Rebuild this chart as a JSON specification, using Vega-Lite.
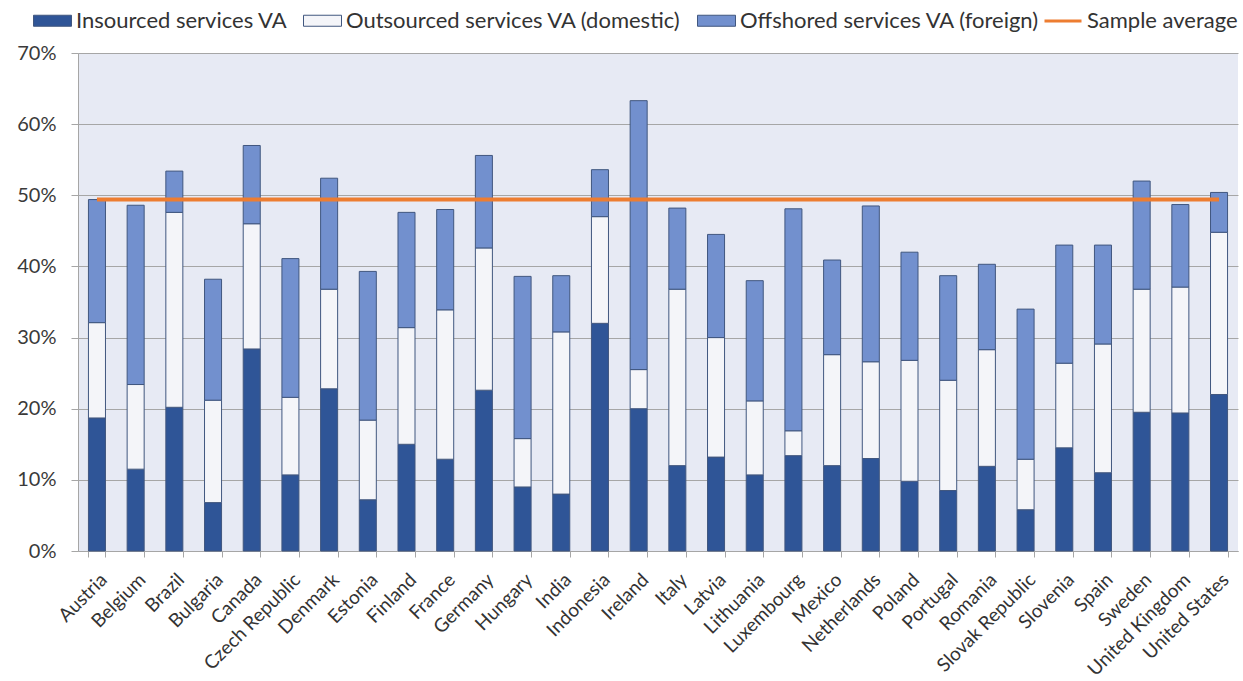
{
"$schema":"https://vega.github.io/schema/vega-lite/v6.json",
"width":1160,"height":498,
"autosize":{"type":"none"},
"padding":{"left":78,"right":5,"top":53,"bottom":130},
"background":"white",
"config":{"view":{"fill":"#E7EAF4","stroke":null},"font":"Lato"},
"datasets":{
"bars":[
{"country":"Austria","component":"Insourced services VA","value":18.7,"rank":1},{"country":"Austria","component":"Outsourced services VA (domestic)","value":13.4,"rank":2},{"country":"Austria","component":"Offshored services VA (foreign)","value":17.3,"rank":3},
{"country":"Belgium","component":"Insourced services VA","value":11.5,"rank":1},{"country":"Belgium","component":"Outsourced services VA (domestic)","value":11.9,"rank":2},{"country":"Belgium","component":"Offshored services VA (foreign)","value":25.2,"rank":3},
{"country":"Brazil","component":"Insourced services VA","value":20.2,"rank":1},{"country":"Brazil","component":"Outsourced services VA (domestic)","value":27.4,"rank":2},{"country":"Brazil","component":"Offshored services VA (foreign)","value":5.8,"rank":3},
{"country":"Bulgaria","component":"Insourced services VA","value":6.8,"rank":1},{"country":"Bulgaria","component":"Outsourced services VA (domestic)","value":14.4,"rank":2},{"country":"Bulgaria","component":"Offshored services VA (foreign)","value":17.0,"rank":3},
{"country":"Canada","component":"Insourced services VA","value":28.4,"rank":1},{"country":"Canada","component":"Outsourced services VA (domestic)","value":17.6,"rank":2},{"country":"Canada","component":"Offshored services VA (foreign)","value":11.0,"rank":3},
{"country":"Czech Republic","component":"Insourced services VA","value":10.7,"rank":1},{"country":"Czech Republic","component":"Outsourced services VA (domestic)","value":10.9,"rank":2},{"country":"Czech Republic","component":"Offshored services VA (foreign)","value":19.5,"rank":3},
{"country":"Denmark","component":"Insourced services VA","value":22.8,"rank":1},{"country":"Denmark","component":"Outsourced services VA (domestic)","value":14.0,"rank":2},{"country":"Denmark","component":"Offshored services VA (foreign)","value":15.6,"rank":3},
{"country":"Estonia","component":"Insourced services VA","value":7.2,"rank":1},{"country":"Estonia","component":"Outsourced services VA (domestic)","value":11.2,"rank":2},{"country":"Estonia","component":"Offshored services VA (foreign)","value":20.9,"rank":3},
{"country":"Finland","component":"Insourced services VA","value":15.0,"rank":1},{"country":"Finland","component":"Outsourced services VA (domestic)","value":16.4,"rank":2},{"country":"Finland","component":"Offshored services VA (foreign)","value":16.2,"rank":3},
{"country":"France","component":"Insourced services VA","value":12.9,"rank":1},{"country":"France","component":"Outsourced services VA (domestic)","value":21.0,"rank":2},{"country":"France","component":"Offshored services VA (foreign)","value":14.1,"rank":3},
{"country":"Germany","component":"Insourced services VA","value":22.6,"rank":1},{"country":"Germany","component":"Outsourced services VA (domestic)","value":20.0,"rank":2},{"country":"Germany","component":"Offshored services VA (foreign)","value":13.0,"rank":3},
{"country":"Hungary","component":"Insourced services VA","value":9.0,"rank":1},{"country":"Hungary","component":"Outsourced services VA (domestic)","value":6.8,"rank":2},{"country":"Hungary","component":"Offshored services VA (foreign)","value":22.8,"rank":3},
{"country":"India","component":"Insourced services VA","value":8.0,"rank":1},{"country":"India","component":"Outsourced services VA (domestic)","value":22.8,"rank":2},{"country":"India","component":"Offshored services VA (foreign)","value":7.9,"rank":3},
{"country":"Indonesia","component":"Insourced services VA","value":32.0,"rank":1},{"country":"Indonesia","component":"Outsourced services VA (domestic)","value":15.0,"rank":2},{"country":"Indonesia","component":"Offshored services VA (foreign)","value":6.6,"rank":3},
{"country":"Ireland","component":"Insourced services VA","value":20.0,"rank":1},{"country":"Ireland","component":"Outsourced services VA (domestic)","value":5.5,"rank":2},{"country":"Ireland","component":"Offshored services VA (foreign)","value":37.8,"rank":3},
{"country":"Italy","component":"Insourced services VA","value":12.0,"rank":1},{"country":"Italy","component":"Outsourced services VA (domestic)","value":24.8,"rank":2},{"country":"Italy","component":"Offshored services VA (foreign)","value":11.4,"rank":3},
{"country":"Latvia","component":"Insourced services VA","value":13.2,"rank":1},{"country":"Latvia","component":"Outsourced services VA (domestic)","value":16.8,"rank":2},{"country":"Latvia","component":"Offshored services VA (foreign)","value":14.5,"rank":3},
{"country":"Lithuania","component":"Insourced services VA","value":10.7,"rank":1},{"country":"Lithuania","component":"Outsourced services VA (domestic)","value":10.4,"rank":2},{"country":"Lithuania","component":"Offshored services VA (foreign)","value":16.9,"rank":3},
{"country":"Luxembourg","component":"Insourced services VA","value":13.4,"rank":1},{"country":"Luxembourg","component":"Outsourced services VA (domestic)","value":3.5,"rank":2},{"country":"Luxembourg","component":"Offshored services VA (foreign)","value":31.2,"rank":3},
{"country":"Mexico","component":"Insourced services VA","value":12.0,"rank":1},{"country":"Mexico","component":"Outsourced services VA (domestic)","value":15.6,"rank":2},{"country":"Mexico","component":"Offshored services VA (foreign)","value":13.3,"rank":3},
{"country":"Netherlands","component":"Insourced services VA","value":13.0,"rank":1},{"country":"Netherlands","component":"Outsourced services VA (domestic)","value":13.6,"rank":2},{"country":"Netherlands","component":"Offshored services VA (foreign)","value":21.9,"rank":3},
{"country":"Poland","component":"Insourced services VA","value":9.8,"rank":1},{"country":"Poland","component":"Outsourced services VA (domestic)","value":17.0,"rank":2},{"country":"Poland","component":"Offshored services VA (foreign)","value":15.2,"rank":3},
{"country":"Portugal","component":"Insourced services VA","value":8.5,"rank":1},{"country":"Portugal","component":"Outsourced services VA (domestic)","value":15.5,"rank":2},{"country":"Portugal","component":"Offshored services VA (foreign)","value":14.7,"rank":3},
{"country":"Romania","component":"Insourced services VA","value":11.9,"rank":1},{"country":"Romania","component":"Outsourced services VA (domestic)","value":16.4,"rank":2},{"country":"Romania","component":"Offshored services VA (foreign)","value":12.0,"rank":3},
{"country":"Slovak Republic","component":"Insourced services VA","value":5.8,"rank":1},{"country":"Slovak Republic","component":"Outsourced services VA (domestic)","value":7.1,"rank":2},{"country":"Slovak Republic","component":"Offshored services VA (foreign)","value":21.1,"rank":3},
{"country":"Slovenia","component":"Insourced services VA","value":14.5,"rank":1},{"country":"Slovenia","component":"Outsourced services VA (domestic)","value":11.9,"rank":2},{"country":"Slovenia","component":"Offshored services VA (foreign)","value":16.6,"rank":3},
{"country":"Spain","component":"Insourced services VA","value":11.0,"rank":1},{"country":"Spain","component":"Outsourced services VA (domestic)","value":18.1,"rank":2},{"country":"Spain","component":"Offshored services VA (foreign)","value":13.9,"rank":3},
{"country":"Sweden","component":"Insourced services VA","value":19.5,"rank":1},{"country":"Sweden","component":"Outsourced services VA (domestic)","value":17.3,"rank":2},{"country":"Sweden","component":"Offshored services VA (foreign)","value":15.2,"rank":3},
{"country":"United Kingdom","component":"Insourced services VA","value":19.4,"rank":1},{"country":"United Kingdom","component":"Outsourced services VA (domestic)","value":17.7,"rank":2},{"country":"United Kingdom","component":"Offshored services VA (foreign)","value":11.6,"rank":3},
{"country":"United States","component":"Insourced services VA","value":22.0,"rank":1},{"country":"United States","component":"Outsourced services VA (domestic)","value":22.8,"rank":2},{"country":"United States","component":"Offshored services VA (foreign)","value":5.6,"rank":3}
],
"avg":[{"series":"Sample average","avg":49.4,"from":"Austria","to":"United States"}]
},
"layer":[
{"data":{"name":"bars"},
 "mark":{"type":"bar","stroke":"#41577F","strokeWidth":1},
 "encoding":{
  "x":{"field":"country","type":"nominal","sort":null,
   "scale":{"domain":["Austria","Belgium","Brazil","Bulgaria","Canada","Czech Republic","Denmark","Estonia","Finland","France","Germany","Hungary","India","Indonesia","Ireland","Italy","Latvia","Lithuania","Luxembourg","Mexico","Netherlands","Poland","Portugal","Romania","Slovak Republic","Slovenia","Spain","Sweden","United Kingdom","United States"],"paddingInner":0.56,"paddingOuter":0.27},
   "axis":{"title":null,"labelAngle":-45,"labelFontSize":19,"labelColor":"#333333","tickBand":"extent","tickSize":6,"tickColor":"#A6A6A6","domainColor":"#A6A6A6","labelPadding":13}},
  "y":{"field":"value","type":"quantitative","stack":"zero",
   "scale":{"domain":[0,70]},
   "axis":{"title":null,"values":[0,10,20,30,40,50,60,70],"labelExpr":"datum.value + '%'","labelFontSize":20,"labelColor":"#3A3A3A","grid":true,"gridColor":"#A6A6A6","domainColor":"#A6A6A6","tickColor":"#A6A6A6","tickSize":7,"labelPadding":15}},
  "fill":{"field":"component","type":"nominal",
   "scale":{"domain":["Insourced services VA","Outsourced services VA (domestic)","Offshored services VA (foreign)"],"range":["#2F5597","#F4F5F9","#7290CE"]},
   "legend":{"orient":"none","legendX":-45,"legendY":-52,"direction":"horizontal","title":null,"labelFontSize":22,"labelColor":"#333333","labelLimit":0,"symbolSize":1444,"columnPadding":13,"labelOffset":4,"padding":0,"symbolType":"M-1,-0.29H1V0.29H-1Z","symbolStrokeColor":"#41577F","symbolStrokeWidth":1}},
  "order":{"field":"rank","type":"quantitative"}
 }},
{"data":{"name":"avg"},
 "mark":{"type":"rule","strokeWidth":4},
 "encoding":{
  "x":{"field":"from","type":"nominal"},
  "x2":{"field":"to"},
  "y":{"field":"avg","type":"quantitative"},
  "stroke":{"field":"series","type":"nominal","scale":{"range":["#ED7D31"]},
   "legend":{"orient":"none","legendX":965,"legendY":-52,"title":null,"labelFontSize":22,"labelColor":"#333333","labelLimit":0,"symbolType":"stroke","symbolSize":1369,"symbolStrokeWidth":3,"labelOffset":4,"padding":0}}
 }}
]
}
